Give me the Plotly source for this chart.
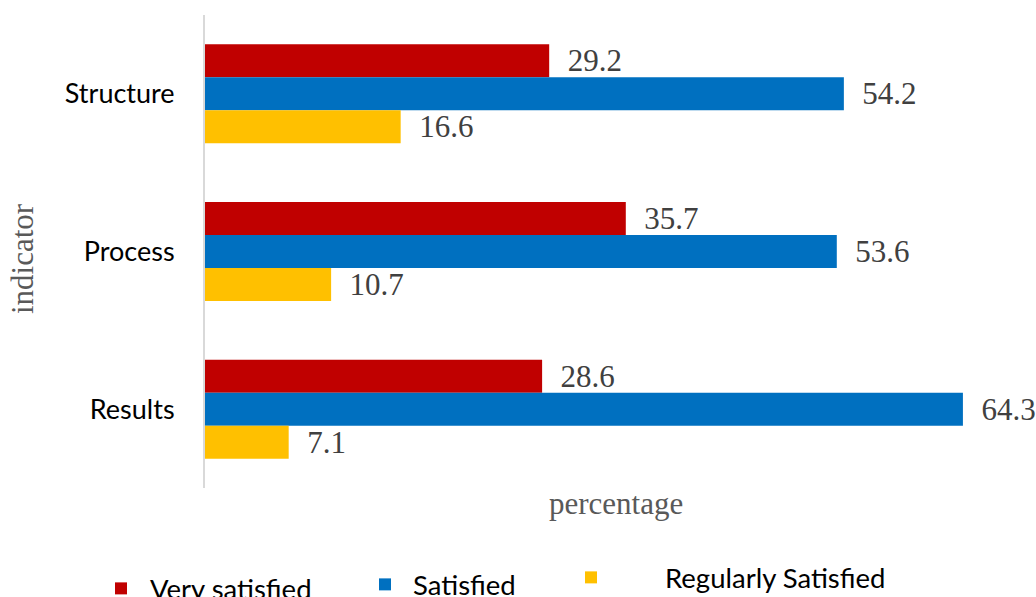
import plotly.graph_objects as go

categories = ["Structure", "Process", "Results"]
very_satisfied = [29.2, 35.7, 28.6]
satisfied = [54.2, 53.6, 64.3]
regularly_satisfied = [16.6, 10.7, 7.1]

series = [
    ("Very satisfied", very_satisfied, "#C00000", "legend"),
    ("Satisfied", satisfied, "#0070C0", "legend2"),
    ("Regularly Satisfied", regularly_satisfied, "#FFC000", "legend3"),
]

W, H = 1036, 597
L, R, T, B = 205, 0, 15, 109
PW, PH = W - L - R, H - T - B


def px_x(x):
    return (x - L) / PW


def px_y(y):
    return (H - B - y) / PH


fig = go.Figure()
for name, vals, color, lg in series:
    fig.add_trace(go.Bar(
        y=categories, x=vals, name=name, orientation="h",
        marker=dict(color=color, line=dict(width=0)),
        text=["\u00a0\u00a0" + f"{v}" for v in vals],
        textposition="outside", constraintext="none", cliponaxis=False,
        textfont=dict(family="Liberation Serif", size=31, color="#404040"),
        legend=lg,
    ))

legfont = dict(family="Lato", size=27.5, color="#000000")
fig.update_layout(
    width=W, height=H,
    margin=dict(l=L, r=R, t=T, b=B, autoexpand=False),
    paper_bgcolor="white", plot_bgcolor="white",
    barmode="group", bargap=0.372, bargroupgap=0,
    showlegend=True,
    legend=dict(xref="container", yref="container", x=92 / W, y=1 - 564 / H,
                xanchor="left", yanchor="top", font=legfont, bgcolor="rgba(0,0,0,0)",
                itemwidth=48),
    legend2=dict(xref="container", yref="container", x=357 / W, y=1 - 560 / H,
                 xanchor="left", yanchor="top", font=legfont, bgcolor="rgba(0,0,0,0)",
                 itemwidth=46),
    legend3=dict(xref="container", yref="container", x=517 / W, y=1 - 553 / H,
                 xanchor="left", yanchor="top", font=legfont, bgcolor="rgba(0,0,0,0)",
                 itemwidth=138),
    xaxis=dict(range=[0, 70.5], showgrid=False, zeroline=False, showline=False,
               showticklabels=False, ticks="", automargin=False),
    yaxis=dict(autorange="reversed", showgrid=False, zeroline=False,
               showline=True, linecolor="#D9D9D9", linewidth=2,
               ticks="", ticklabelstandoff=23, automargin=False,
               tickfont=dict(family="Lato", size=27, color="#000000")),
    annotations=[
        dict(text="percentage", xref="paper", yref="paper", x=0.495, y=px_y(504),
             xanchor="center", yanchor="middle", showarrow=False,
             font=dict(family="Liberation Serif", size=31, color="#595959")),
        dict(text="indicator", xref="paper", yref="paper", x=px_x(22), y=px_y(259),
             xanchor="center", yanchor="middle", showarrow=False, textangle=-90,
             font=dict(family="Liberation Serif", size=31, color="#595959")),
    ],
)
fig.write_html("out.html")
